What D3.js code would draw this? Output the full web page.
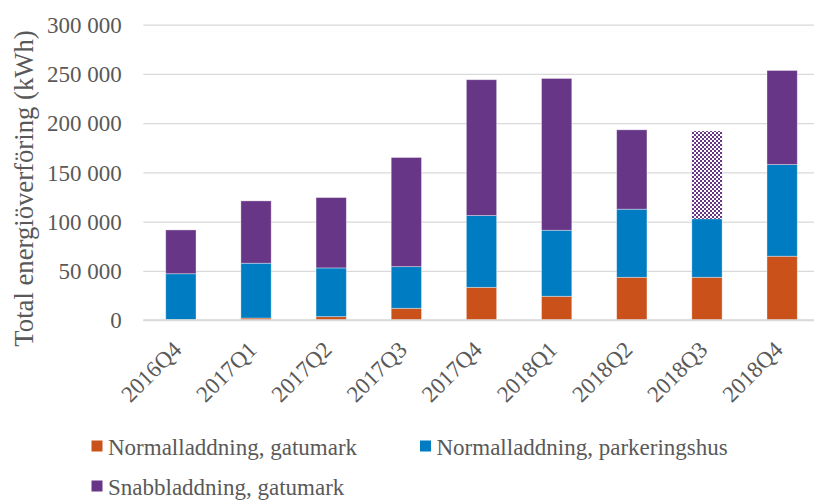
<!DOCTYPE html>
<html>
<head>
<meta charset="utf-8">
<script src="https://cdn.jsdelivr.net/npm/d3@7"></script>
<style>
    body { margin: 0; background: #fff; }
    text { font-family: "Liberation Serif", "Times New Roman", serif; fill: #595959; }
    .grid line { stroke: #d9d9d9; stroke-width: 1.3; }
    .grid .domain { display: none; }
</style>
</head>
<body>
<svg id="chart"></svg>
<script>
// data (kWh per quarter)
const quarters = ["2016Q4", "2017Q1", "2017Q2", "2017Q3", "2017Q4", "2018Q1", "2018Q2", "2018Q3", "2018Q4"];
const gatumark = [300, 2000, 3400, 11900, 33200, 24100, 43400, 43400, 64800];
const parkeringshus = [46700, 55700, 49500, 42300, 72900, 67100, 69200, 59300, 93100];
const snabb = [44500, 63300, 71500, 110900, 138000, 154200, 80600, 89200, 95600];
const yTicks = [0, 50000, 100000, 150000, 200000, 250000, 300000];

const seriesNames = ["Normalladdning, gatumark", "Normalladdning, parkeringshus", "Snabbladdning, gatumark"];
const colors = ["#ca511a", "#007dc2", "#673686"];
const patternQuarter = "2018Q3"; // purple part drawn with a checker fill

let width = 814, height = 500;
let margin = { top: 24.7, left: 143.3, bottom: 180 };
let plotRight = 819.7;

let svg = d3.select("#chart")
    .attr("width", width)
    .attr("height", height);

// checker pattern for the estimated segment
let pat = svg.append("defs").append("pattern")
    .attr("id", "checker")
    .attr("patternUnits", "userSpaceOnUse")
    .attr("width", 4).attr("height", 4);
pat.append("rect").attr("width", 4).attr("height", 4).attr("fill", "#fff");
pat.append("rect").attr("width", 2).attr("height", 2).attr("fill", colors[2]);
pat.append("rect").attr("x", 2).attr("y", 2).attr("width", 2).attr("height", 2).attr("fill", colors[2]);

let x = d3.scaleBand()
    .domain(quarters)
    .range([margin.left, plotRight])
    .paddingInner(0.597)
    .paddingOuter(0.2985);

let y = d3.scaleLinear()
    .domain([0, 300000])
    .range([height - margin.bottom, margin.top]);

let fmt = d3.formatLocale({ decimal: ",", thousands: " ", grouping: [3], currency: ["", ""] }).format(",");

// Add the Y Axis with gridlines
svg.append("g")
    .attr("class", "grid")
    .attr("transform", "translate(" + margin.left + ",0)")
    .call(d3.axisLeft(y).tickValues(yTicks).tickFormat(fmt)
        .tickSize(-(plotRight - margin.left)).tickPadding(21.5))
    .selectAll("text")
    .style("font-size", "23px")
    .attr("dy", "0.34em");

let table = quarters.map((q, i) => ({
    quarter: q, gatumark: gatumark[i], parkeringshus: parkeringshus[i], snabb: snabb[i]
}));
let stack = d3.stack().keys(["gatumark", "parkeringshus", "snabb"])(table);

stack.forEach((layer, k) => {
    svg.append("g")
        .selectAll("rect")
        .data(layer)
        .enter().append("rect")
        .attr("x", d => x(d.data.quarter))
        .attr("y", d => y(d[1]))
        .attr("width", x.bandwidth())
        .attr("height", d => y(d[0]) - y(d[1]))
        .attr("fill", d => (k == 2 && d.data.quarter == patternQuarter) ? "url(#checker)" : colors[k])
        .attr("stroke", d => (k == 2 && d.data.quarter == patternQuarter) ? "none" : "#fff")
        .attr("stroke-opacity", 0.45)
        .attr("stroke-width", 0.8);
});

// Add the X Axis
let xAxis = svg.append("g")
    .attr("transform", "translate(0," + y(0) + ")")
    .call(d3.axisBottom(x).tickSize(0).tickPadding(0));
xAxis.select(".domain").attr("stroke", "#d9d9d9").attr("stroke-width", 1.3)
    .attr("d", "M" + margin.left + ",0H" + plotRight);
xAxis.selectAll("text")
    .style("font-size", "23px")
    .attr("text-anchor", "end")
    .attr("dy", null)
    .attr("y", 0)
    .attr("transform", "translate(2,31) rotate(-45)");

// y label
svg.append("text")
    .attr("transform", "translate(33," + 188.5 + ") rotate(-90)")
    .attr("text-anchor", "middle")
    .style("font-size", "26.7px")
    .text("Total energiöverföring (kWh)");

// legend
let legendPos = [[91.5, 455], [420, 455], [91.5, 495]];
seriesNames.forEach((name, i) => {
    let g = svg.append("g").attr("transform", "translate(" + legendPos[i][0] + "," + legendPos[i][1] + ")");
    g.append("rect").attr("x", 0).attr("y", -14.5).attr("width", 11).attr("height", 11).attr("fill", colors[i]);
    g.append("text").attr("x", 16.5).attr("y", 0).style("font-size", "23px").text(name);
});
</script>
</body>
</html>
